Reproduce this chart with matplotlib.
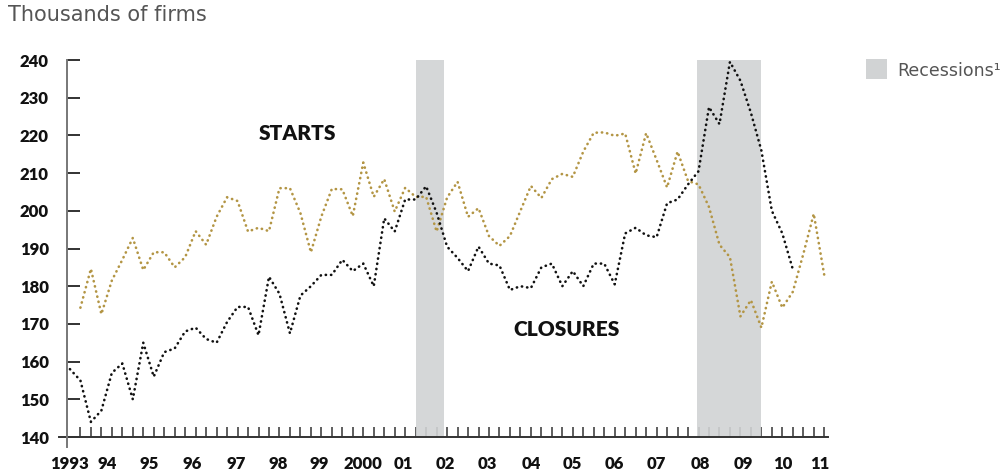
import matplotlib
matplotlib.use("Agg")
import matplotlib.pyplot as plt
from matplotlib.lines import Line2D
from matplotlib.patches import Rectangle
from matplotlib.transforms import blended_transform_factory

# ---- data (thousands of firms, quarterly) ----
closures_start = 1993.0      # 1993 Q1
closures = [158, 155, 144, 147, 157, 159.5, 150, 165, 156, 162.5, 163.5, 168,
            169, 166, 165, 170.5, 174.5, 174.5, 167, 182.5, 178, 167.5, 177.5, 180,
            183, 183, 187, 184, 186, 180, 198, 194.5, 203, 203, 206.5, 199.5,
            190.5, 187.5, 184, 190.5, 186, 185.5, 179, 180, 179.5, 185, 186, 180,
            184, 180, 186, 186, 180.5, 194, 195.5, 193.5, 193, 202, 203, 207,
            210.5, 227.5, 223, 239.5, 234.5, 226, 216, 200, 194, 184.5]
starts_start = 1993.25       # 1993 Q2
starts = [174.3, 184.6, 172.6, 181.5, 187, 192.8, 184.3, 189, 189, 185, 187.7, 194.6,
          191, 198.4, 203.6, 202.6, 194.5, 195.5, 194.6, 206, 206, 199.4, 189, 198.5,
          205.8, 205.7, 198.6, 212.8, 203.7, 208.4, 199.8, 206.1, 203.7, 203.7, 194.5, 203.5,
          207.7, 198.4, 200.7, 193.3, 190.7, 193.3, 200, 206.6, 203.4, 208.4, 209.8, 209,
          215.7, 220.7, 220.8, 219.9, 220.5, 209.9, 220.6, 213.5, 206.2, 215.7, 207.9, 207,
          201, 191, 187.7, 172, 176.3, 169, 181.2, 174.3, 178.5, 188.5, 199.2, 183]
recessions = [(2001.25, 2001.92), (2007.96, 2009.5)]
year_labels = ["1993", "94", "95", "96", "97", "98", "99", "2000", "01", "02",
               "03", "04", "05", "06", "07", "08", "09", "10", "11"]
year_label_pos = [1993.0, 1993.89, 1994.88, 1995.91, 1996.96, 1997.96, 1998.94, 2000.0,
                  2000.95, 2001.95, 2002.95, 2004.0, 2005.0, 2006.0, 2007.0, 2008.04,
                  2009.06, 2010.0, 2010.9]
y_ticks = [140, 150, 160, 170, 180, 190, 200, 210, 220, 230, 240]

x_close = [closures_start + 0.25 * i for i in range(len(closures))]
x_start = [starts_start + 0.25 * i for i in range(len(starts))]

GOLD = "#b39544"
SHADE = "#d1d3d4"
BOLDFONT = ["Lato", "DejaVu Sans"]

fig = plt.figure(figsize=(10.05, 4.74), dpi=100)
L, R, B, T = 67 / 1005, 828 / 1005, 1 - 437 / 474, 1 - 60 / 474
ax = fig.add_axes([L, B, R - L, T - B])
ax.set_xlim(1992.93, 2011.09)
ax.set_ylim(140, 240)
ax.set_axisbelow(True)

for a, b in recessions:
    ax.axvspan(a, b, color=SHADE, alpha=0.9, lw=0, zorder=1)

dots = (0, (0.1, 1.9))
ax.plot(x_start, starts, color=GOLD, lw=1.9, linestyle=dots,
        dash_capstyle="round", zorder=3)
ax.plot(x_close, closures, color="#111111", lw=1.9, linestyle=dots,
        dash_capstyle="round", zorder=3)

for s in ax.spines.values():
    s.set_visible(False)

# quarterly ticks
qticks = [1993.25 + 0.25 * i for i in range(72)]
ax.set_xticks(qticks)
ax.set_xticklabels([""] * len(qticks))
ax.tick_params(axis="x", which="major", direction="in", length=7, width=1.1,
               color="#333333")

trans = blended_transform_factory(ax.transData, fig.transFigure)
for pos, lab in zip(year_label_pos, year_labels):
    ax.text(pos, 1 - 464 / 474, lab, transform=trans, ha="center", va="center",
            fontsize=12, fontweight="heavy", family=BOLDFONT, color="#111111")

ax.set_yticks(y_ticks)
ax.set_yticklabels([str(v) for v in y_ticks])
ax.tick_params(axis="y", direction="in", length=9, width=1.3, color="#222222",
               pad=13, labelsize=12, labelcolor="#111111")
for lab in ax.get_yticklabels():
    lab.set_fontweight("heavy")
    lab.set_family(BOLDFONT)

# custom axis lines extending past the corner
fig.add_artist(Line2D([59 / 1005, 828 / 1005], [B, B], color="#333333", lw=1.4))
fig.add_artist(Line2D([L, L], [1 - 447 / 474, T], color="#777777", lw=1.4))

fig.text(297 / 1005, 1 - 134 / 474, "STARTS", ha="center", va="center",
         fontsize=15, fontweight="heavy", family=BOLDFONT, color="#111111")
fig.text(567 / 1005, 1 - 329 / 474, "CLOSURES", ha="center", va="center",
         fontsize=15, fontweight="heavy", family=BOLDFONT, color="#111111")

fig.text(8 / 1005, 1 - 15 / 474, "Thousands of firms", ha="left", va="center",
         fontsize=15, color="#555555")

fig.add_artist(Rectangle((866 / 1005, 1 - 79 / 474), 21 / 1005, 20 / 474,
                         transform=fig.transFigure, color=SHADE, lw=0))
fig.text(897 / 1005, 1 - 71 / 474, "Recessions\u00b9", ha="left", va="center",
         fontsize=12.5, color="#555555")

fig.savefig("out.png", dpi=100)
